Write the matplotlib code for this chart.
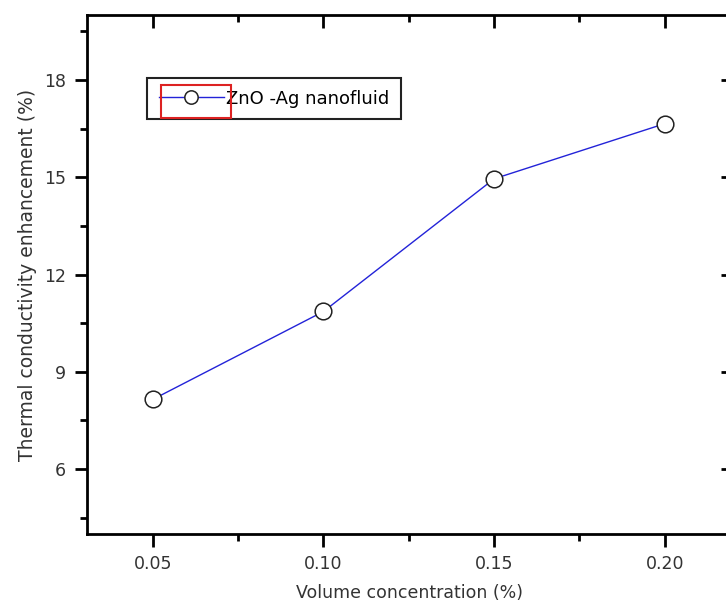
import matplotlib.pyplot as plt
from matplotlib.patches import Rectangle
from matplotlib.ticker import MultipleLocator

plt.rcParams['font.family'] = ['DejaVu Sans']

conc = [0.05, 0.10, 0.15, 0.20]
enh = [8.15, 10.86, 14.95, 16.65]
xticks = [0.05, 0.10, 0.15, 0.20]
xlabels = ['0.05', '0.10', '0.15', '0.20']
yticks = [6, 9, 12, 15, 18]

fig = plt.figure(figsize=(7.26, 6.01), dpi=100)
ax = fig.add_axes([87/726, 67/601, 646/726, 519/601])

ax.plot(conc, enh, color='#2323d8', lw=1.0, marker='o', ms=12,
        mfc='white', mec='#222222', mew=1.1, label='ZnO -Ag nanofluid')

ax.set_xlim(0.0307, 0.22)
ax.set_ylim(4, 20)
ax.set_xticks(xticks)
ax.set_xticklabels(xlabels)
ax.set_yticks(yticks)
ax.xaxis.set_minor_locator(MultipleLocator(0.025))
ax.yaxis.set_minor_locator(MultipleLocator(1.5))

for s in ax.spines.values():
    s.set_linewidth(2)

ax.tick_params(which='major', direction='out', length=9, width=2,
               labelsize=12.5, labelcolor='#333333', pad=6)
ax.tick_params(which='minor', direction='out', length=5, width=2)
ax.tick_params(which='both', top=True, right=True)
# top and right ticks point inward
for t in ax.xaxis.get_major_ticks() + ax.xaxis.get_minor_ticks():
    t.tick2line.set_marker(3)
for t in ax.yaxis.get_major_ticks() + ax.yaxis.get_minor_ticks():
    t.tick2line.set_marker(0)

ax.set_xlabel('Volume concentration (%)', fontsize=12.5, color='#333333', labelpad=8)
ax.set_ylabel('Thermal conductivity enhancement (%)', fontsize=13.5, color='#333333', labelpad=5)

leg = ax.legend(loc='upper left', bbox_to_anchor=(60/646, 456/519), borderaxespad=0,
                fontsize=13, handlelength=3.6, handletextpad=0.15, markerscale=0.8,
                fancybox=False, edgecolor='#222222', framealpha=1,
                borderpad=0.65)
leg.get_frame().set_linewidth(1.5)
ax.add_patch(Rectangle((74/646, 416/519), 70/646, 33/519, transform=ax.transAxes,
                       fill=False, edgecolor='#dd2222', lw=1.5, zorder=10))

fig.savefig('out.png', dpi=100)
